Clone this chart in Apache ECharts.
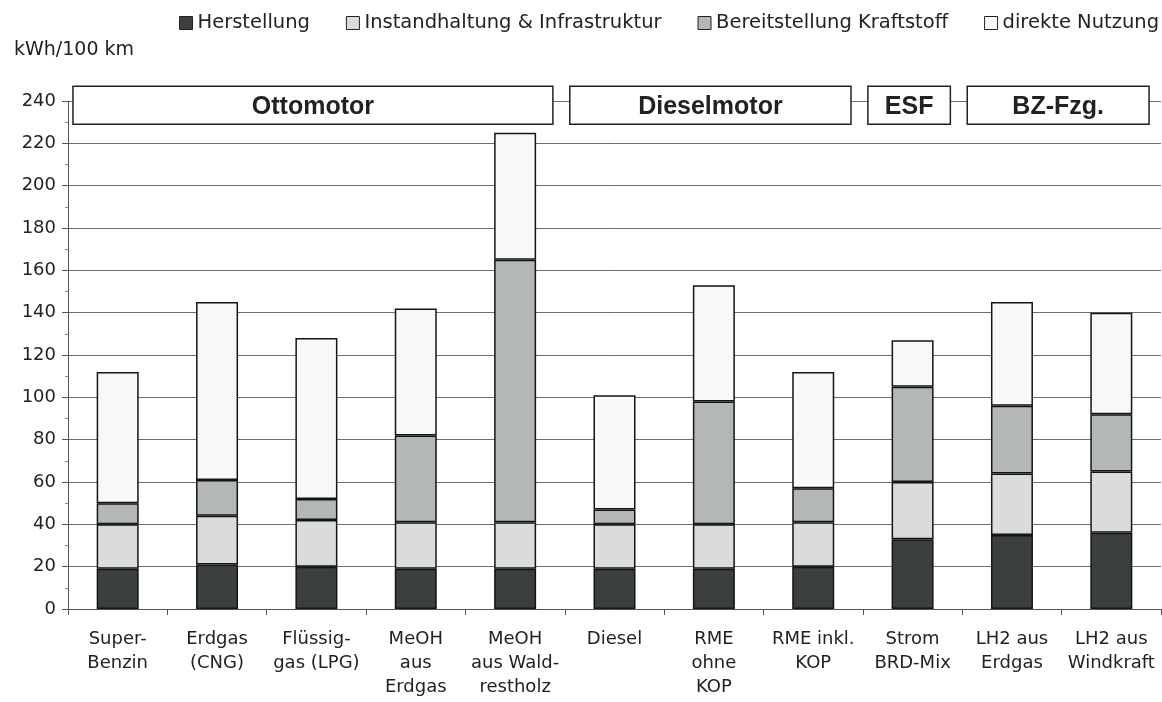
<!DOCTYPE html>
<html>
<head>
<meta charset="utf-8">
<script src="https://cdn.jsdelivr.net/npm/echarts@6/dist/echarts.min.js"></script>
<style>
html,body{margin:0;padding:0;background:#fff;}
#chart{width:1162px;height:702px;}
</style>
</head>
<body>
<div id="chart"></div>
<script>
const categories = ["Super-\nBenzin","Erdgas\n(CNG)","Flüssig-\ngas (LPG)","MeOH\naus\nErdgas","MeOH\naus Wald-\nrestholz","Diesel","RME\nohne\nKOP","RME inkl.\nKOP","Strom\nBRD-Mix","LH2 aus\nErdgas","LH2 aus\nWindkraft"];
const herstellung     = [19, 21, 20, 19, 19, 19, 19, 20, 33, 35, 36];
const instandhaltung  = [21, 23, 22, 22, 22, 21, 21, 21, 27, 29, 29];
const bereitstellung  = [10, 17, 10, 41, 124, 7, 58, 16, 45, 32, 27];
const direkteNutzung  = [62, 84, 76, 60, 60, 54, 55, 55, 22, 49, 48];
const seriesNames = ["Herstellung","Instandhaltung & Infrastruktur","Bereitstellung Kraftstoff","direkte Nutzung"];
const yTicks = [0,20,40,60,80,100,120,140,160,180,200,220,240];
const groupNames = ["Ottomotor","Dieselmotor","ESF","BZ-Fzg."];
const groupStart = [0, 5, 8, 9];
const groupEnd   = [4, 7, 8, 10];

const colors = ["#3b403d","#d9dcda","#b3b7b5","#f8f8f8"];
const values = [herstellung, instandhaltung, bereitstellung, direkteNutzung];
const font = "DejaVu Sans";

const chart = echarts.init(document.getElementById('chart'));
const barSeries = seriesNames.map((n, i) => ({
  name: n,
  type: 'bar',
  stack: 'total',
  barWidth: 42,
  data: values[i],
  itemStyle: { color: colors[i], borderColor: '#151515', borderWidth: 1.5 }
}));

const boxSeries = {
  type: 'custom',
  clip: false,
  z: 10,
  silent: true,
  data: groupStart.map((s, i) => [s, groupEnd[i]]),
  renderItem: function (params, api) {
    const s = api.value(0), e = api.value(1);
    const bw = api.size([1, 0])[0];
    const p1 = api.coord([s, 247]);
    const p2 = api.coord([e, 229]);
    const x1 = p1[0] - bw * 0.45;
    const x2 = p2[0] + bw * 0.38;
    return {
      type: 'group',
      children: [
        { type: 'rect', shape: { x: x1, y: p1[1], width: x2 - x1, height: p2[1] - p1[1] },
          style: { fill: '#ffffff', stroke: '#222', lineWidth: 1.5 } },
        { type: 'text', style: { text: groupNames[params.dataIndex], x: (x1 + x2) / 2, y: (p1[1] + p2[1]) / 2 + 2,
          align: 'center', verticalAlign: 'middle', font: 'bold 25px "Liberation Sans", Arial', fill: '#222' } }
      ]
    };
  }
};

chart.setOption({
  animation: false,
  backgroundColor: '#ffffff',
  title: { text: 'kWh/100 km', left: 9, top: 36,
    textStyle: { fontFamily: font, fontSize: 19, fontWeight: 'normal', color: '#222' } },
  legend: {
    data: seriesNames,
    left: 179, top: 13, width: 990, padding: 0,
    itemWidth: 13, itemHeight: 13, itemGap: 36,
    icon: 'rect',
    itemStyle: { borderColor: '#222', borderWidth: 1 },
    textStyle: { fontFamily: font, fontSize: 19.5, color: '#222' }
  },
  grid: { left: 68, right: 1, top: 101, bottom: 93 },
  xAxis: {
    type: 'category',
    data: categories,
    axisLine: { lineStyle: { color: '#555', width: 1 } },
    axisTick: { show: true, length: 6, lineStyle: { color: '#555' } },
    axisLabel: { fontFamily: font, fontSize: 18, color: '#222', lineHeight: 24, margin: 18, interval: 0 }
  },
  yAxis: {
    type: 'value',
    min: yTicks[0], max: yTicks[yTicks.length - 1], interval: 20,
    axisLine: { show: true, lineStyle: { color: '#555' } },
    axisTick: { show: true, length: 6, lineStyle: { color: '#555' } },
    minorTick: { show: true, splitNumber: 2, length: 3, lineStyle: { color: '#888' } },
    splitLine: { show: true, lineStyle: { color: '#6e6e6e', width: 1 } },
    axisLabel: { fontFamily: font, fontSize: 18, color: '#222', margin: 12 }
  },
  series: barSeries.concat([boxSeries])
});
</script>
</body>
</html>
